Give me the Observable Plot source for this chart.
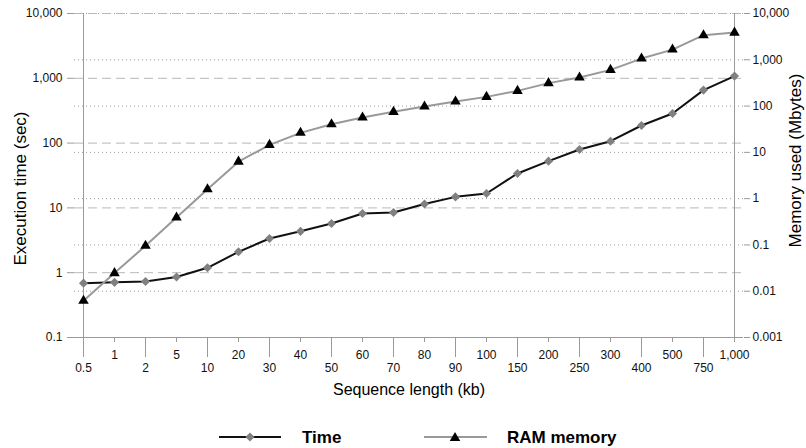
<!DOCTYPE html>
<html><head><meta charset="utf-8">
<script src="https://cdn.jsdelivr.net/npm/d3@7"></script>
<script src="https://cdn.jsdelivr.net/npm/@observablehq/plot@0.6"></script>
<style>
body{margin:0;background:#fff;font-family:"Liberation Sans",Arial,sans-serif;}
#legend svg{display:block;}
</style></head><body><div id="chart"></div><div id="legend"></div>
<script>
const categories = ["0.5","1","2","5","10","20","30","40","50","60","70","80","90","100","150","200","250","300","400","500","750","1000"];
const xLabels = ["0.5","1","2","5","10","20","30","40","50","60","70","80","90","100","150","200","250","300","400","500","750","1,000"];
const timeSec = [0.69,0.71,0.73,0.86,1.19,2.1,3.37,4.35,5.74,8.2,8.5,11.5,14.8,16.7,34,52.7,79.6,107,187,286,658,1081];
const ramMB = [0.0062,0.0246,0.096,0.39,1.6,6.3,14.5,26.4,40.6,56.5,75,97.6,125,158,213,313,413,606,1062,1661,3396,3866];
const leftTicks = [0.1,1,10,100,1000,10000];
const leftTickLabels = ["0.1","1","10","100","1,000","10,000"];
const rightTicks = [0.001,0.01,0.1,1,10,100,1000,10000];
const rightTickLabels = ["0.001","0.01","0.1","1","10","100","1,000","10,000"];
const seriesNames = ["Time","RAM memory"];
const titles = {x:"Sequence length (kb)", yLeft:"Execution time (sec)", yRight:"Memory used (Mbytes)"};

// right axis (0.001..10,000) mapped onto the left log scale (0.1..10,000)
const rMin = Math.log10(rightTicks[0]), rMax = Math.log10(rightTicks[rightTicks.length-1]);
const lMin = Math.log10(leftTicks[0]), lMax = Math.log10(leftTicks[leftTicks.length-1]);
const toLeft = v => Math.pow(10, lMin + (Math.log10(v) - rMin) * (lMax - lMin) / (rMax - rMin));

const data = categories.map((c, i) => ({cat: c, time: timeSec[i], ram: ramMB[i]}));
const labelOf = c => xLabels[categories.indexOf(c)];
const evenCats = categories.filter((c, i) => i % 2 === 0);
const oddCats = categories.filter((c, i) => i % 2 === 1);
const rightPos = rightTicks.map(toLeft);
const leftFmt = d => leftTickLabels[leftTicks.indexOf(d)];

const font = "Liberation Sans, Arial, sans-serif";
const chart = Plot.plot({
  width: 806, height: 405,
  marginLeft: 74, marginRight: 63, marginTop: 13, marginBottom: 68,
  style: {fontFamily: font, fontSize: "12px", color: "#000", background: "#fff", overflow: "visible"},
  x: {type: "point", domain: categories, padding: 0, label: null},
  y: {type: "log", domain: [leftTicks[0], leftTicks[leftTicks.length-1]], label: null},
  marks: [
    Plot.ruleY(rightTicks.slice(1), {y: toLeft, stroke: "#9a9a9a", strokeDasharray: "1,3"}),
    Plot.ruleY(leftTicks.slice(1), {stroke: "#b8b8b8", strokeDasharray: "9,5"}),
    Plot.ruleX([categories[0], categories[categories.length-1]], {stroke: "#9a9a9a"}),
    Plot.ruleY([leftTicks[0]], {stroke: "#9a9a9a"}),
    Plot.axisY(leftTicks, {anchor: "left", tickSize: 7, tickPadding: 5, tickFormat: leftFmt, stroke: "#9a9a9a", fill: "#111", label: null}),
    Plot.axisY(rightPos, {anchor: "right", tickSize: 6, tickPadding: 3, tickFormat: () => "", stroke: "#9a9a9a", label: null}),
    Plot.text(rightTicks, {y: toLeft, text: (d, i) => rightTickLabels[i], frameAnchor: "right", textAnchor: "start", dx: 9, fontSize: 12, fill: "#111"}),
    Plot.axisX(evenCats, {anchor: "bottom", tickSize: 20, tickPadding: 6, tickFormat: labelOf, stroke: "#9a9a9a", fill: "#111", label: null}),
    Plot.axisX(oddCats, {anchor: "bottom", tickSize: 5, tickPadding: 8, tickFormat: labelOf, stroke: "#9a9a9a", fill: "#111", label: null}),
    Plot.line(data, {x: "cat", y: "time", stroke: "#111", strokeWidth: 2}),
    Plot.line(data, {x: "cat", y: d => toLeft(d.ram), stroke: "#999", strokeWidth: 2}),
    Plot.dot(data, {x: "cat", y: "time", symbol: "diamond2", r: 4.1, fill: "#808080", stroke: "none"}),
    Plot.dot(data, {x: "cat", y: d => toLeft(d.ram), symbol: "triangle", r: 3.9, fill: "#000", stroke: "none"}),
    Plot.text([titles.yLeft], {frameAnchor: "left", textAnchor: "middle", lineAnchor: "middle", dx: -54, dy: 13, rotate: -90, fontSize: 17, fill: "#000"}),
    Plot.text([titles.yRight], {frameAnchor: "right", textAnchor: "middle", lineAnchor: "middle", dx: 52, dy: -15, rotate: -90, fontSize: 17, fill: "#000"}),
    Plot.text([titles.x], {frameAnchor: "bottom", textAnchor: "middle", lineAnchor: "middle", dy: 52, fontSize: 16, fill: "#000"})
  ]
});
document.getElementById("chart").append(chart);

// legend below the chart
const ns = "http://www.w3.org/2000/svg";
const lg = document.createElementNS(ns, "svg");
lg.setAttribute("width", 806); lg.setAttribute("height", 43);
const cy = 32;
const tri = d3.symbol(d3.symbolTriangle, Math.PI * 3.9 * 3.9)();
const dia = d3.symbol(d3.symbolDiamond2, Math.PI * 4.1 * 4.1)();
lg.innerHTML = `
  <line x1="219" x2="281" y1="${cy}" y2="${cy}" stroke="#111" stroke-width="2"/>
  <path d="${dia}" transform="translate(250,${cy})" fill="#808080"/>
  <text x="302" y="${cy}" dy="0.35em" font-family="${font}" font-weight="bold" font-size="17" fill="#000">${seriesNames[0]}</text>
  <line x1="424" x2="487" y1="${cy}" y2="${cy}" stroke="#999" stroke-width="2"/>
  <path d="${tri}" transform="translate(455,${cy+1})" fill="#000"/>
  <text x="507" y="${cy}" dy="0.35em" font-family="${font}" font-weight="bold" font-size="17" fill="#000">${seriesNames[1]}</text>`;
document.getElementById("legend").append(lg);
</script></body></html>
